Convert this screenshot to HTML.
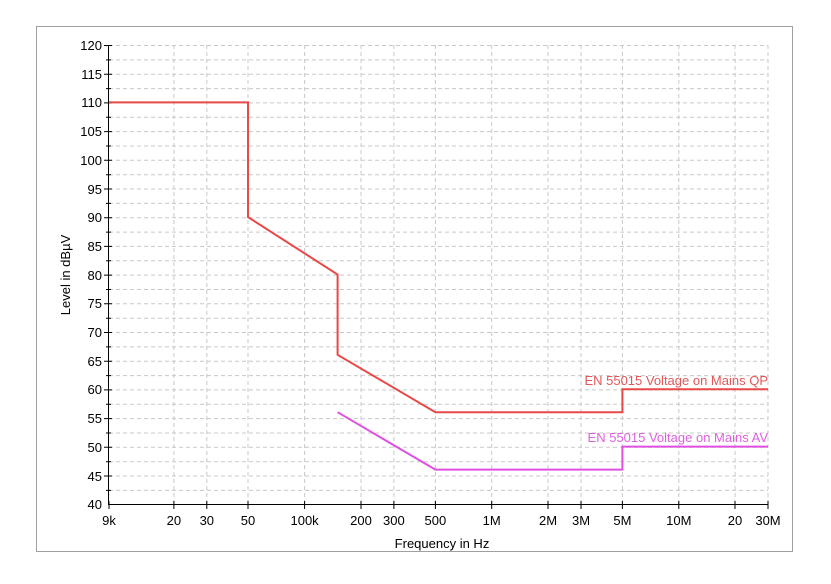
<!DOCTYPE html>
<html><head><style>
body{margin:0;background:#fff;}
svg text{font-family:"Liberation Sans",Arial,sans-serif;}
</style></head><body>
<svg width="831" height="579" xmlns="http://www.w3.org/2000/svg">
<rect x="0" y="0" width="831" height="579" fill="#fff"/>
<rect x="36.5" y="26.5" width="756" height="525" fill="#fff" stroke="#a0a0a0" stroke-width="1"/>
<g stroke="#c8c8c8" stroke-dasharray="4,3" stroke-width="1">
<line x1="109" x2="768" y1="45.5" y2="45.5"/><line x1="109" x2="768" y1="59.9" y2="59.9"/>
<line x1="109" x2="768" y1="74.2" y2="74.2"/><line x1="109" x2="768" y1="88.6" y2="88.6"/>
<line x1="109" x2="768" y1="102.9" y2="102.9"/><line x1="109" x2="768" y1="117.3" y2="117.3"/>
<line x1="109" x2="768" y1="131.6" y2="131.6"/><line x1="109" x2="768" y1="146" y2="146"/>
<line x1="109" x2="768" y1="160.3" y2="160.3"/><line x1="109" x2="768" y1="174.7" y2="174.7"/>
<line x1="109" x2="768" y1="189" y2="189"/><line x1="109" x2="768" y1="203.4" y2="203.4"/>
<line x1="109" x2="768" y1="217.7" y2="217.7"/><line x1="109" x2="768" y1="232.1" y2="232.1"/>
<line x1="109" x2="768" y1="246.4" y2="246.4"/><line x1="109" x2="768" y1="260.8" y2="260.8"/>
<line x1="109" x2="768" y1="275.1" y2="275.1"/><line x1="109" x2="768" y1="289.5" y2="289.5"/>
<line x1="109" x2="768" y1="303.8" y2="303.8"/><line x1="109" x2="768" y1="318.2" y2="318.2"/>
<line x1="109" x2="768" y1="332.5" y2="332.5"/><line x1="109" x2="768" y1="346.9" y2="346.9"/>
<line x1="109" x2="768" y1="361.2" y2="361.2"/><line x1="109" x2="768" y1="375.6" y2="375.6"/>
<line x1="109" x2="768" y1="389.9" y2="389.9"/><line x1="109" x2="768" y1="404.3" y2="404.3"/>
<line x1="109" x2="768" y1="418.6" y2="418.6"/><line x1="109" x2="768" y1="433" y2="433"/>
<line x1="109" x2="768" y1="447.3" y2="447.3"/><line x1="109" x2="768" y1="461.7" y2="461.7"/>
<line x1="109" x2="768" y1="476" y2="476"/><line x1="109" x2="768" y1="490.4" y2="490.4"/>
<line x1="173.9" x2="173.9" y1="45" y2="504"/><line x1="206.8" x2="206.8" y1="45" y2="504"/>
<line x1="248" x2="248" y1="45" y2="504"/><line x1="304.6" x2="304.6" y1="45" y2="504"/>
<line x1="361" x2="361" y1="45" y2="504"/><line x1="393.9" x2="393.9" y1="45" y2="504"/>
<line x1="435.4" x2="435.4" y1="45" y2="504"/><line x1="491.7" x2="491.7" y1="45" y2="504"/>
<line x1="548" x2="548" y1="45" y2="504"/><line x1="581" x2="581" y1="45" y2="504"/>
<line x1="622.4" x2="622.4" y1="45" y2="504"/><line x1="678.8" x2="678.8" y1="45" y2="504"/>
<line x1="735" x2="735" y1="45" y2="504"/><line x1="768" x2="768" y1="45" y2="504"/>
</g>
<g stroke="#000" stroke-width="1">
<line x1="108.5" y1="45" x2="108.5" y2="504"/>
<line x1="108" y1="504.5" x2="768" y2="504.5"/>
</g>
<g font-size="13" fill="#000" text-anchor="end">
<text x="102" y="50">120</text><text x="102" y="79">115</text><text x="102" y="107">110</text>
<text x="102" y="136">105</text><text x="102" y="165">100</text><text x="102" y="194">95</text>
<text x="102" y="222">90</text><text x="102" y="251">85</text><text x="102" y="280">80</text>
<text x="102" y="308">75</text><text x="102" y="337">70</text><text x="102" y="366">65</text>
<text x="102" y="394">60</text><text x="102" y="423">55</text><text x="102" y="452">50</text>
<text x="102" y="481">45</text><text x="102" y="509">40</text>
</g>
<g stroke="#000">
<path d="M104 45.5h8M104 74.2h8M104 102.9h8M104 131.6h8M104 160.3h8M104 189h8M104 217.7h8M104 246.4h8M104 275.1h8M104 303.8h8M104 332.5h8M104 361.2h8M104 389.9h8M104 418.6h8M104 447.3h8M104 476h8M106 59.9h5M106 88.6h5M106 117.3h5M106 146h5M106 174.7h5M106 203.4h5M106 232.1h5M106 260.8h5M106 289.5h5M106 318.2h5M106 346.9h5M106 375.6h5M106 404.3h5M106 433h5M106 461.7h5M106 490.4h5"/>
<path d="M109 501v8M173.9 501v8M206.8 501v8M248 501v8M304.6 501v8M361 501v8M393.9 501v8M435.4 501v8M491.7 501v8M548 501v8M581 501v8M622.4 501v8M678.8 501v8M735 501v8M768 501v8"/>
</g>
<g font-size="13" fill="#000" text-anchor="middle">
<text x="109" y="525">9k</text><text x="173.9" y="525">20</text><text x="206.8" y="525">30</text>
<text x="248" y="525">50</text><text x="304.6" y="525">100k</text><text x="361" y="525">200</text>
<text x="393.9" y="525">300</text><text x="435.4" y="525">500</text><text x="491.7" y="525">1M</text>
<text x="548" y="525">2M</text><text x="581" y="525">3M</text><text x="622.4" y="525">5M</text>
<text x="678.8" y="525">10M</text><text x="735" y="525">20</text><text x="768" y="525">30M</text>
</g>
<text x="442" y="548" font-size="13" text-anchor="middle">Frequency in Hz</text>
<text transform="translate(70,275) rotate(-90)" font-size="13" text-anchor="middle">Level in dBµV</text>
<polyline fill="none" stroke="#e84848" stroke-width="2" points="109,102.4 248,102.4 248,217.1 337.6,274.5 337.6,354.8 435.4,412.2 622.4,412.2 622.4,389.2 768,389.2"/>
<polyline fill="none" stroke="#e050e0" stroke-width="2" points="337.6,412.2 435.4,469.6 622.4,469.6 622.4,446.6 768,446.6"/>
<text x="768" y="385" font-size="13" fill="#e05858" text-anchor="end">EN 55015 Voltage on Mains QP</text>
<text x="768" y="442" font-size="13" fill="#e060e0" text-anchor="end">EN 55015 Voltage on Mains AV</text>
</svg>
</body></html>
